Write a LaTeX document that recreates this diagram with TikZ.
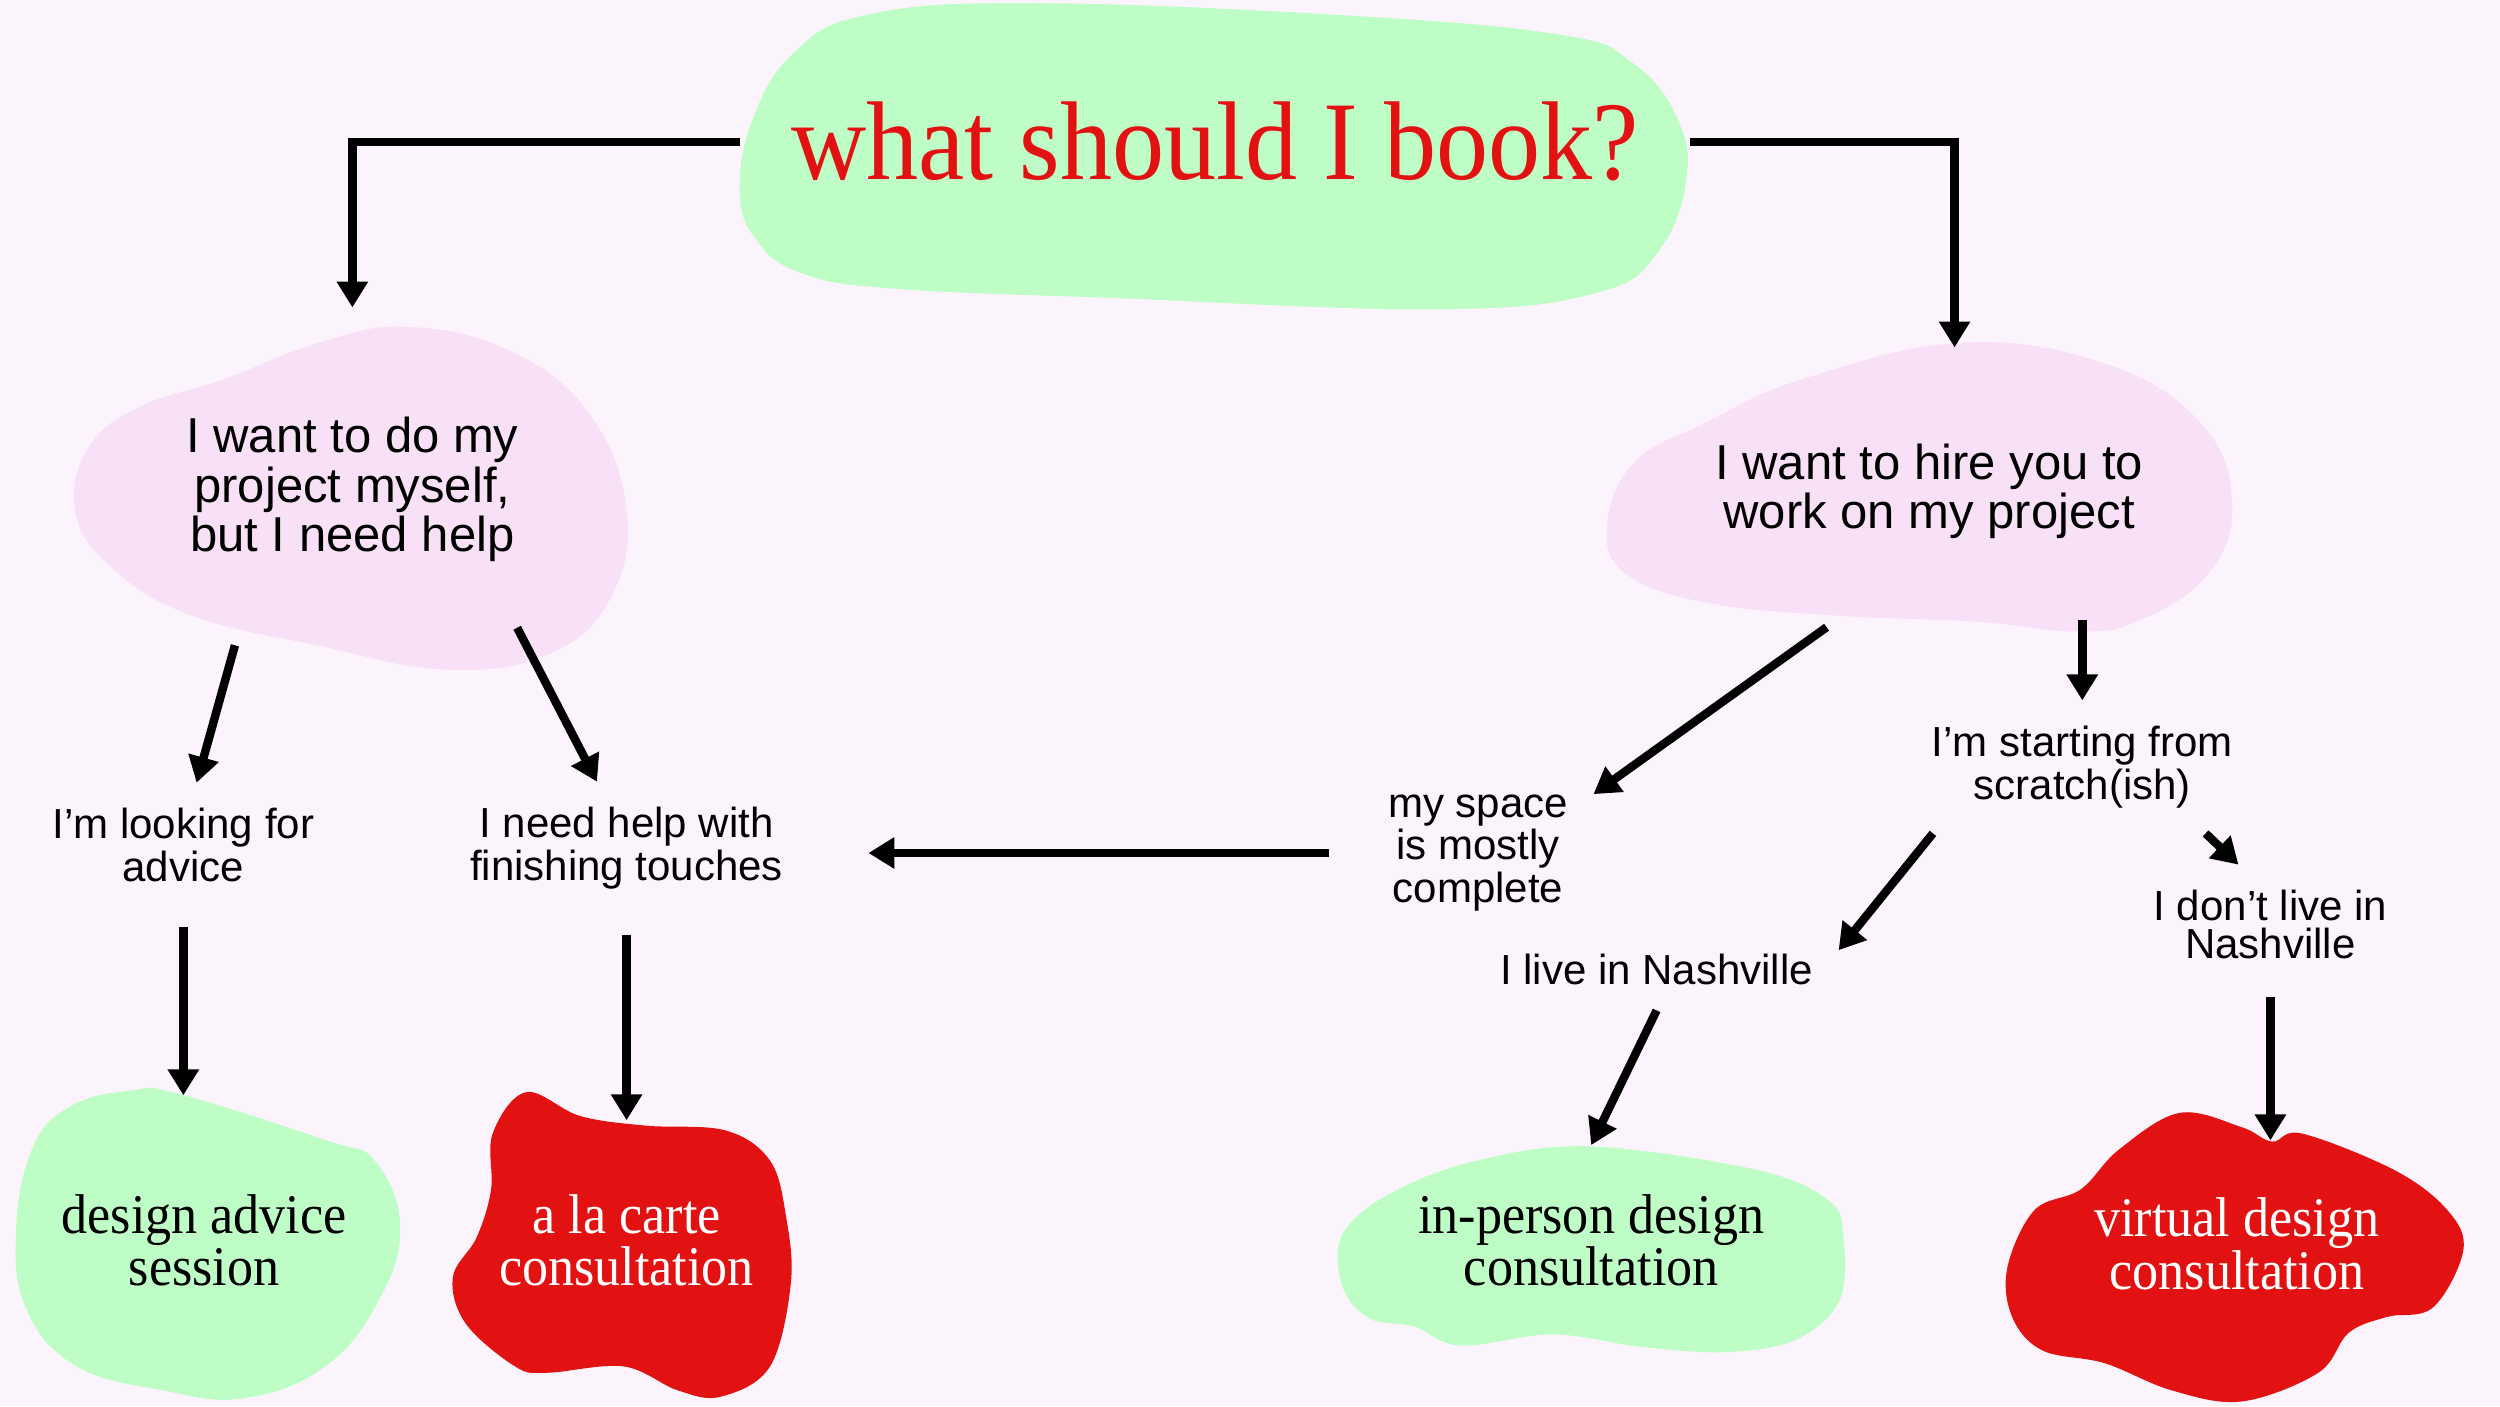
\documentclass[tikz,border=0pt]{standalone}
\usepackage{fontspec}
\setmainfont{Liberation Serif}
\setsansfont{Liberation Sans}
\newfontfamily\blobfont[FakeStretch=0.93]{Liberation Serif}
\usepackage{tikz}
\usetikzlibrary{shapes.geometric, arrows.meta, calc}

\definecolor{bgpink}{HTML}{FCF4FC}
\definecolor{mint}{HTML}{BFFDC6}
\definecolor{blush}{HTML}{F8E1F6}
\definecolor{bookred}{HTML}{E31212}

\begin{document}
\begin{tikzpicture}[
    x=0.016cm, y=-0.016cm,
    ask/.style={ellipse, inner sep=0pt, align=center,
    font=\sffamily\fontsize{14}{12.7}\selectfont},
    choice/.style={inner sep=0.25cm, align=center,
    font=\sffamily\fontsize{12}{10.9}\selectfont},
    answer/.style={inner sep=0pt, align=center,
    font=\blobfont\fontsize{16}{15}\selectfont},
    arrow/.style={-{Triangle[length=0.26cm, width=0.3cm]}, line width=2.4pt}
]

\useasboundingbox (0,0) rectangle (1568,882);
\fill[bgpink] (0,0) rectangle (1568,882);

% ---------------- BLOBS ----------------
\fill[mint] plot[smooth cycle, tension=0.7] coordinates {(464,120) (474,150)
  (502,171) (560,181) (700,187) (900,194) (1000,184) (1040,158) (1058,110)
  (1050,70) (1022,38) (980,22) (850,10) (650,2) (545,9) (498,33) (472,75)};

\fill[blush] plot[smooth cycle, tension=0.7] coordinates {(47,320) (56,280)
  (88,255) (140,238) (200,215) (255,205) (320,220) (370,260) (393,320)
  (383,375) (345,410) (280,420) (200,405) (120,386) (70,356)};

\fill[blush] plot[smooth cycle, tension=0.7] coordinates {(1230,215) (1320,228)
  (1380,265) (1400,315) (1385,360) (1340,390) (1300,396) (1240,390)
  (1150,386) (1070,378) (1020,360) (1008,330) (1025,290) (1070,265)
  (1130,238)};

\fill[mint] plot[smooth cycle, tension=0.7] coordinates {(82,684) (112,686)
  (204,715) (235,728) (251,769) (238,815) (204,857) (153,877) (102,872)
  (48,857) (17,822) (10,774) (20,721) (44,694)};

\fill[bookred] plot[smooth cycle, tension=0.6] coordinates {(330,685) (364,700)
  (405,706) (455,709) (483,728) (493,763) (496,805) (483,857) (452,876)
  (425,872) (391,857) (343,861) (323,857) (292,830) (284,801) (299,776)
  (308,746) (309,711)};

\fill[mint] plot[smooth cycle, tension=0.6] coordinates {(998,719) (1103,734)
  (1147,753) (1156,774) (1154,815) (1127,840) (1084,848) (1031,845)
  (974,837) (916,844) (887,832) (859,827) (842,807) (842,774) (873,748)
  (926,728)};

\fill[bookred] plot[smooth cycle, tension=0.6] coordinates {(1367,698) (1406,707)
  (1425,716) (1444,711) (1502,734) (1535,759) (1545,784) (1526,820)
  (1497,826) (1473,836) (1454,861) (1406,879) (1362,872) (1320,855)
  (1281,847) (1262,826) (1259,795) (1276,759) (1305,746) (1329,721)};

% ---------------- QUESTIONS ----------------
\node[answer, minimum width=9.52cm, text=bookred,
  font=\blobfont\fontsize{32}{32}\selectfont] (title) at (762,89)
{what should I book?};

\node[ask, minimum width=5.55cm, minimum height=3.44cm] (diy) at (221,307)
{I want to do my\\project myself,\\but I need help};

\node[ask, minimum width=6.27cm, minimum height=2.88cm] (hire) at (1210,308)
{I want to hire you to\\work on my project};

% ---------------- CHOICES ----------------
\node[choice] (advice) at (115,530) {I’m looking for\\advice};
\node[choice] (touches) at (393,532) {I need help with\\finishing touches};
\node[choice] (done) at (927,535) {my space\\is mostly\\complete};
\node[choice] (scratch) at (1306,481) {I’m starting from\\scratch(ish)};
\node[choice] (local) at (1039,608) {I live in Nashville};
\node[choice] (remote) at (1424,580) {I don’t live in\\Nashville};

% ---------------- BOOKINGS ----------------
\node[answer, minimum width=3.84cm, minimum height=2.9cm] (session)
  at (128,778) {design advice\\session};
\node[answer, minimum width=3.44cm, minimum height=2.4cm, text=white]
  (alacarte) at (393,778) {a la carte\\consultation};
\node[answer, minimum width=5.12cm, minimum height=1.9cm] (inperson)
  at (998,778) {in-person design\\consultation};
\node[answer, minimum width=4.6cm, minimum height=2.06cm, text=white]
  (virtual) at (1403,780) {virtual design\\consultation};

% Arrows
\draw[arrow, shorten >=0.1cm] (title.west) -| (diy.north);
\draw[arrow] (title.east) -| (hire.80);
\draw[arrow] (diy.233) -- (advice.78);
\draw[arrow] (diy.320) -- (touches.114);
\draw[arrow, shorten <=0.2cm] (advice.south) -- (advice.south |- session.north);
\draw[arrow, shorten <=0.2cm] (touches.south) -- (touches.south |- alacarte.north);
\draw[arrow] (hire.233) -- (done.27);
\draw[arrow] (scratch.north |- hire.-43) -- (scratch.north);
\draw[arrow, shorten <=0.34cm, shorten >=0.6cm] (done.west) -- (done.west -| touches.east);
\draw[arrow] (scratch.204) -- (local.6);
\draw[arrow] ($(scratch.south)!0.7!(scratch.south east)$) -- (remote.118);
\draw[arrow] (local.south) -- (inperson.north);
\draw[arrow, shorten <=0.12cm] (remote.south) -- (remote.south |- virtual.north);

\end{tikzpicture}
\end{document}
